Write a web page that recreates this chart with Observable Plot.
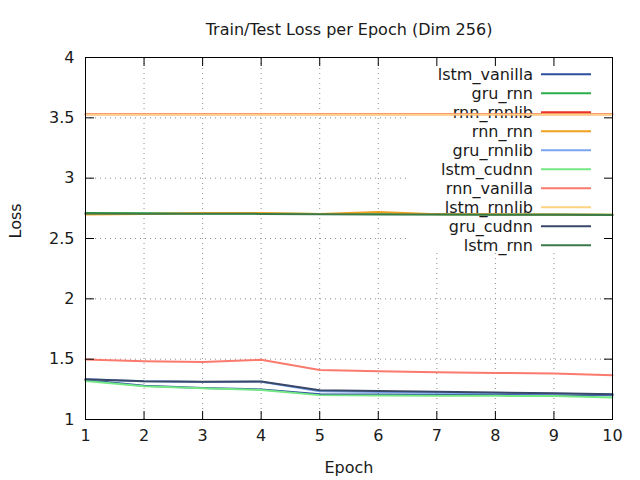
<!DOCTYPE html>
<html>
<head>
<meta charset="utf-8">
<script src="https://cdn.jsdelivr.net/npm/d3@7"></script>
<script src="https://cdn.jsdelivr.net/npm/@observablehq/plot@0.6"></script>
<style>
  html, body { margin: 0; padding: 0; background: #fff; }
  svg { display: block; }
</style>
</head>
<body>
<div id="chart"></div>
<script>
const epochs = [1, 2, 3, 4, 5, 6, 7, 8, 9, 10];
const seriesNames = ["lstm_vanilla", "gru_rnn", "rnn_rnnlib", "rnn_rnn", "gru_rnnlib", "lstm_cudnn", "rnn_vanilla", "lstm_rnnlib", "gru_cudnn", "lstm_rnn"];
const seriesColors = ["#2b4e9e", "#2aae4a", "#e8322a", "#f0a020", "#78a4f0", "#74e884", "#fa7a6e", "#ffd280", "#3a4868", "#3a7a48"];

const lstm_vanilla = [1.327, 1.280, 1.262, 1.249, 1.210, 1.207, 1.205, 1.205, 1.205, 1.200];
const gru_rnn      = [2.712, 2.710, 2.708, 2.707, 2.704, 2.702, 2.700, 2.699, 2.698, 2.697];
const rnn_rnnlib   = [3.530, 3.530, 3.530, 3.530, 3.530, 3.530, 3.530, 3.530, 3.530, 3.530];
const rnn_rnn      = [2.698, 2.703, 2.712, 2.712, 2.703, 2.720, 2.700, 2.700, 2.698, 2.697];
const gru_rnnlib   = [1.333, 1.316, 1.311, 1.313, 1.235, 1.228, 1.222, 1.218, 1.214, 1.207];
const lstm_cudnn   = [1.320, 1.275, 1.258, 1.245, 1.202, 1.198, 1.197, 1.196, 1.195, 1.182];
const rnn_vanilla  = [1.497, 1.482, 1.476, 1.495, 1.410, 1.400, 1.391, 1.386, 1.382, 1.367];
const lstm_rnnlib  = [3.528, 3.528, 3.528, 3.528, 3.528, 3.528, 3.528, 3.528, 3.528, 3.528];
const gru_cudnn    = [1.334, 1.317, 1.312, 1.315, 1.243, 1.237, 1.229, 1.224, 1.218, 1.210];
const lstm_rnn     = [2.707, 2.706, 2.705, 2.704, 2.700, 2.699, 2.698, 2.697, 2.696, 2.695];

const seriesValues = [lstm_vanilla, gru_rnn, rnn_rnnlib, rnn_rnn, gru_rnnlib, lstm_cudnn, rnn_vanilla, lstm_rnnlib, gru_cudnn, lstm_rnn];

const xTicks = [1, 2, 3, 4, 5, 6, 7, 8, 9, 10];
const yTicks = [1, 1.5, 2, 2.5, 3, 3.5, 4];
const yTickLabels = ["1", "1.5", "2", "2.5", "3", "3.5", "4"];

const titleText = "Train/Test Loss per Epoch (Dim 256)";
const xLabel = "Epoch";
const yLabel = "Loss";

// legend box extent (in data units) where the grid is hidden
const keyLeft = 6.55;
const keyBottom = 2.38;

const rows = [];
seriesNames.forEach((name, i) => {
  epochs.forEach((e, j) => rows.push({series: name, epoch: e, loss: seriesValues[i][j]}));
});

const hGrid = yTicks.slice(1, -1).map(v => ({y: v, x1: 1, x2: v > keyBottom ? keyLeft : 10}));
const vGrid = xTicks.slice(1, -1).map(v => ({x: v, y1: 1, y2: v > keyLeft ? keyBottom : 4}));

const FONT = "DejaVu Sans, sans-serif";
const FS = 16;

function legendMark(index, scales, values, dims) {
  const g = d3.create("svg:g").attr("font-family", FONT).attr("font-size", FS);
  const right = dims.width - dims.marginRight;
  const top = dims.marginTop;
  seriesNames.forEach((name, i) => {
    const y = top + 17.3 + i * 19;
    g.append("text")
      .attr("x", right - 79).attr("y", y)
      .attr("text-anchor", "end").attr("dominant-baseline", "central")
      .attr("fill", "#1a1a1a").text(name);
    g.append("line")
      .attr("x1", right - 71).attr("x2", right - 21)
      .attr("y1", y).attr("y2", y)
      .attr("stroke", seriesColors[i]).attr("stroke-width", 2);
  });
  return g.node();
}

const chart = Plot.plot({
  width: 640,
  height: 480,
  marginLeft: 85,
  marginRight: 28,
  marginTop: 57,
  marginBottom: 61,
  style: {fontFamily: FONT, fontSize: FS + "px", color: "#1a1a1a", background: "#fff"},
  x: {domain: [1, 10], ticks: xTicks, label: null},
  y: {domain: [1, 4], ticks: yTicks, label: null},
  color: {domain: seriesNames, range: seriesColors},
  marks: [
    Plot.ruleY(hGrid, {y: "y", x1: "x1", x2: "x2", stroke: "#8c8c8c", strokeWidth: 1, strokeDasharray: "1,4"}),
    Plot.ruleX(vGrid, {x: "x", y1: "y1", y2: "y2", stroke: "#8c8c8c", strokeWidth: 1, strokeDasharray: "1,4"}),
    legendMark,
    Plot.line(rows, {x: "epoch", y: "loss", z: "series", stroke: "series", strokeWidth: 2, strokeLinejoin: "round"}),
    Plot.frame({stroke: "#000", strokeWidth: 1}),
    Plot.axisY({anchor: "left", ticks: yTicks, tickSize: -9, text: null, stroke: "#000"}),
    Plot.axisY({anchor: "right", ticks: yTicks, tickSize: -9, text: null, stroke: "#000"}),
    Plot.axisX({anchor: "bottom", ticks: xTicks, tickSize: -8, text: null, stroke: "#000"}),
    Plot.axisX({anchor: "top", ticks: xTicks, tickSize: -8, text: null, stroke: "#000"}),
    Plot.axisY({anchor: "left", ticks: yTicks, tickSize: 0, tickPadding: 11, tickFormat: (d, i) => yTickLabels[i], fontSize: FS, fill: "#1a1a1a"}),
    Plot.axisX({anchor: "bottom", ticks: xTicks, tickSize: 0, tickPadding: 10, fontSize: FS, fill: "#1a1a1a"}),
    Plot.text([titleText], {frameAnchor: "top", dy: -28, text: d => d, fontSize: FS, fill: "#1a1a1a", lineAnchor: "middle"}),
    Plot.text([xLabel], {frameAnchor: "bottom", dy: 48, text: d => d, fontSize: FS, fill: "#1a1a1a", lineAnchor: "middle"}),
    Plot.text([yLabel], {frameAnchor: "left", dx: -70, rotate: -90, text: d => d, fontSize: FS, fill: "#1a1a1a", lineAnchor: "middle"})
  ]
});
document.getElementById("chart").appendChild(chart);
</script>
</body>
</html>
